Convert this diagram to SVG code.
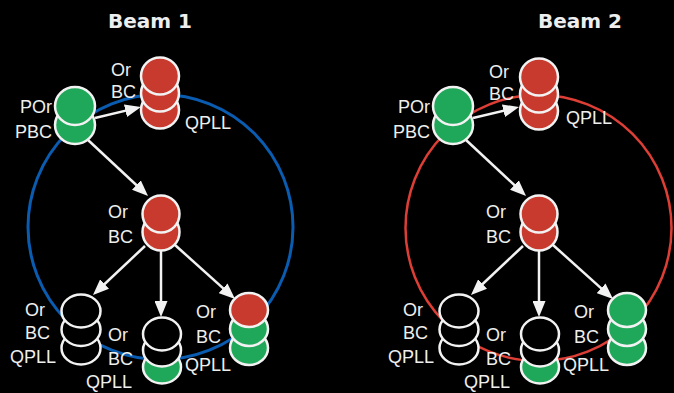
<svg xmlns="http://www.w3.org/2000/svg" width="674" height="393" viewBox="0 0 674 393">
  <defs>
    <style>
      .lbl { font-family: "Liberation Sans", Arial, sans-serif; font-size: 18px; fill: #eeeeee; }
      .title { font-family: "DejaVu Sans", sans-serif; font-weight: bold; font-size: 20px; fill: #eeeeee; text-anchor: middle; }
      .d { stroke: #f2f2f2; stroke-width: 2.5; }
      .r { fill: #c83a2e; }
      .g { fill: #20a85a; }
      .k { fill: #000000; }
      .edge { stroke: #f2f2f2; stroke-width: 2.5; fill: none; marker-end: url(#ah); }
    </style>
    <marker id="ah" viewBox="0 0 16 13" refX="8" refY="6.5" markerWidth="16" markerHeight="13" markerUnits="userSpaceOnUse" orient="auto">
      <path d="M0,0 L16,6.5 L0,13 z" fill="#f2f2f2"/>
    </marker>
  </defs>
  <rect width="674" height="393" fill="#000000"/>

  <text class="title" x="150" y="28">Beam 1</text>
  <text class="title" x="580" y="28">Beam 2</text>

  <circle id="ring1" cx="160.5" cy="227" r="132.5" fill="none" stroke="#0a5cb0" stroke-width="3"/>
  <circle id="ring2" cx="538.5" cy="228" r="133" fill="none" stroke="#dd3e36" stroke-width="2.5"/>

  <g id="connectors">
    <g id="connectors-beam1">
      <line class="edge" x1="95" y1="118" x2="133.2" y2="108.9"/>
      <line class="edge" x1="88" y1="140" x2="142.2" y2="190.5"/>
      <line class="edge" x1="145" y1="246" x2="98.8" y2="289.5"/>
      <line class="edge" x1="161" y1="250" x2="161" y2="309"/>
      <line class="edge" x1="175" y1="245" x2="229.1" y2="293.6"/>
    </g>
    <g id="connectors-beam2" transform="translate(378,0)">
      <line class="edge" x1="95" y1="118" x2="133.2" y2="108.9"/>
      <line class="edge" x1="88" y1="140" x2="142.2" y2="190.5"/>
      <line class="edge" x1="145" y1="246" x2="98.8" y2="289.5"/>
      <line class="edge" x1="161" y1="250" x2="161" y2="309"/>
      <line class="edge" x1="175" y1="245" x2="229.1" y2="293.6"/>
    </g>
  </g>

  <!-- Beam 1 nodes -->
  <g id="b1-pbc">
    <ellipse class="d g" cx="75" cy="125" rx="20" ry="19"/>
    <ellipse class="d g" cx="75" cy="106" rx="20" ry="19"/>
    <text class="lbl" x="52" y="113" text-anchor="end">POr</text>
    <text class="lbl" x="52" y="138" text-anchor="end">PBC</text>
  </g>
  <g id="b1-top">
    <ellipse class="d r" cx="160" cy="110" rx="19" ry="18.5"/>
    <ellipse class="d r" cx="160" cy="93" rx="19" ry="18.5"/>
    <ellipse class="d r" cx="160" cy="76" rx="19" ry="18.5"/>
    <text class="lbl" x="111" y="76">Or</text>
    <text class="lbl" x="111" y="98">BC</text>
    <text class="lbl" x="185" y="129">QPLL</text>
  </g>
  <g id="b1-mid">
    <ellipse class="d r" cx="161" cy="232" rx="18.5" ry="18.5"/>
    <ellipse class="d r" cx="161" cy="214" rx="18.5" ry="18.5"/>
    <text class="lbl" x="108" y="218">Or</text>
    <text class="lbl" x="108" y="243">BC</text>
  </g>
  <g id="b1-left">
    <ellipse class="d k" cx="81" cy="348" rx="19.5" ry="16.5"/>
    <ellipse class="d k" cx="81" cy="329.5" rx="19.5" ry="16.5"/>
    <ellipse class="d k" cx="81" cy="311" rx="19.5" ry="16.5"/>
    <text class="lbl" x="25" y="316">Or</text>
    <text class="lbl" x="25" y="339">BC</text>
    <text class="lbl" x="10" y="363">QPLL</text>
  </g>
  <g id="b1-center">
    <ellipse class="d g" cx="162" cy="367" rx="19" ry="16.5"/>
    <ellipse class="d k" cx="162" cy="350" rx="19" ry="16.5"/>
    <ellipse class="d k" cx="162" cy="334" rx="19" ry="16.5"/>
    <text class="lbl" x="108" y="341">Or</text>
    <text class="lbl" x="108" y="365">BC</text>
    <text class="lbl" x="86" y="388">QPLL</text>
  </g>
  <g id="b1-right">
    <ellipse class="d g" cx="249" cy="348" rx="19" ry="17"/>
    <ellipse class="d g" cx="249" cy="329" rx="19" ry="17"/>
    <ellipse class="d r" cx="249" cy="310" rx="19" ry="17"/>
    <text class="lbl" x="196" y="318">Or</text>
    <text class="lbl" x="196" y="343">BC</text>
    <text class="lbl" x="185" y="371">QPLL</text>
  </g>

  <!-- Beam 2 nodes -->
  <g transform="translate(378,0)">
    <g id="b2-pbc">
      <ellipse class="d g" cx="75" cy="125" rx="20" ry="19"/>
      <ellipse class="d g" cx="75" cy="106" rx="20" ry="19"/>
      <text class="lbl" x="52" y="113" text-anchor="end">POr</text>
      <text class="lbl" x="52" y="138" text-anchor="end">PBC</text>
    </g>
    <g id="b2-top">
      <ellipse class="d r" cx="161" cy="111" rx="19" ry="18.5"/>
      <ellipse class="d r" cx="161" cy="94" rx="19" ry="18.5"/>
      <ellipse class="d r" cx="161" cy="77" rx="19" ry="18.5"/>
      <text class="lbl" x="111" y="78">Or</text>
      <text class="lbl" x="111" y="100">BC</text>
      <text class="lbl" x="188" y="124">QPLL</text>
    </g>
    <g id="b2-mid">
      <ellipse class="d r" cx="161" cy="232" rx="18.5" ry="18.5"/>
      <ellipse class="d r" cx="161" cy="214" rx="18.5" ry="18.5"/>
      <text class="lbl" x="108" y="218">Or</text>
      <text class="lbl" x="108" y="243">BC</text>
    </g>
    <g id="b2-left">
      <ellipse class="d k" cx="81" cy="348" rx="19.5" ry="16.5"/>
      <ellipse class="d k" cx="81" cy="329.5" rx="19.5" ry="16.5"/>
      <ellipse class="d k" cx="81" cy="311" rx="19.5" ry="16.5"/>
      <text class="lbl" x="25" y="316">Or</text>
      <text class="lbl" x="25" y="339">BC</text>
      <text class="lbl" x="10" y="363">QPLL</text>
    </g>
    <g id="b2-center">
      <ellipse class="d g" cx="162" cy="367" rx="19" ry="16.5"/>
      <ellipse class="d k" cx="162" cy="350" rx="19" ry="16.5"/>
      <ellipse class="d k" cx="162" cy="334" rx="19" ry="16.5"/>
      <text class="lbl" x="108" y="341">Or</text>
      <text class="lbl" x="108" y="365">BC</text>
      <text class="lbl" x="86" y="388">QPLL</text>
    </g>
    <g id="b2-right">
      <ellipse class="d g" cx="249" cy="348" rx="19" ry="17"/>
      <ellipse class="d g" cx="249" cy="329" rx="19" ry="17"/>
      <ellipse class="d g" cx="249" cy="310" rx="19" ry="17"/>
      <text class="lbl" x="196" y="318">Or</text>
      <text class="lbl" x="196" y="343">BC</text>
      <text class="lbl" x="185" y="371">QPLL</text>
    </g>
  </g>
</svg>
